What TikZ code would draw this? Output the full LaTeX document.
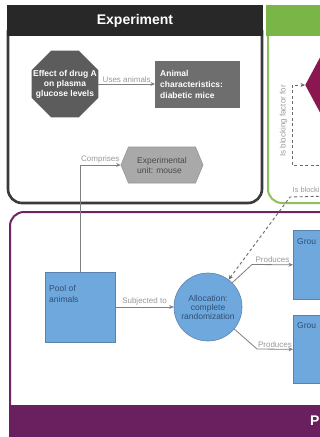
\documentclass[tikz,border=0pt]{standalone}
\usepackage{fontspec}
\setmainfont{Liberation Sans}
\usetikzlibrary{shapes.geometric,shapes.symbols,arrows.meta}

\definecolor{expHead}{HTML}{282828}
\definecolor{expBorder}{HTML}{3A3A3A}
\definecolor{octFill}{HTML}{5C5C5C}
\definecolor{charFill}{HTML}{6E6E6E}
\definecolor{hexFill}{HTML}{A9A9A9}
\definecolor{hexEdge}{HTML}{959595}
\definecolor{hexText}{HTML}{4A4A4A}
\definecolor{greenHead}{HTML}{79B547}
\definecolor{greenBorder}{HTML}{8DC25A}
\definecolor{purpleBand}{HTML}{6A1F5E}
\definecolor{purpleBorder}{HTML}{6E2563}
\definecolor{blueFill}{HTML}{6FA8DC}
\definecolor{blueEdge}{HTML}{5A82AC}
\definecolor{blueText}{HTML}{2F4F76}
\definecolor{diaFill}{HTML}{8A1750}
\definecolor{connGray}{HTML}{808080}
\definecolor{lblGray}{HTML}{999999}
\definecolor{dashGray}{HTML}{6A6A6A}

\tikzset{
  conn/.style={draw=connGray, line width=0.8pt, -{Stealth[length=4.5pt,width=4pt]}},
  blocking/.style={draw=dashGray, line width=0.9pt, dash pattern=on 3pt off 2.5pt,
    -{Stealth[length=4.5pt,width=4pt]}},
  lbl/.style={font=\fontsize{8}{9}\selectfont, text=lblGray, inner sep=1.5pt},
  bluebox/.style={draw=blueEdge, fill=blueFill, line width=0.6pt, inner sep=0pt},
  bluetext/.style={font=\fontsize{8.5}{11}\selectfont, text=blueText, align=left, inner sep=0pt},
  headtext/.style={font=\fontsize{14}{16}\selectfont\bfseries, text=white, inner sep=0pt},
}

\begin{document}
\begin{tikzpicture}[x=1pt,y=-1pt]
\useasboundingbox (0,0) rectangle (320,437);
\clip (0,0) rectangle (320,437);
\fill[white] (0,0) rectangle (320,437);

% ---- Experiment panel
\draw[expBorder, line width=2.6pt, rounded corners=14pt] (8,30) -- (8,203) -- (262,203) -- (262,30);
\fill[expHead] (6.7,5) rectangle (263.3,36);
\node[headtext] (expTitle) at (135,20.5) {Experiment};

% ---- Green panel
\draw[greenBorder, line width=2pt, rounded corners=14pt] (268,30) -- (268,203) -- (340,203);
\fill[greenHead] (266,5) rectangle (330,36);

% ---- Purple panel
\draw[purpleBorder, line width=2pt, rounded corners=14pt] (10,420) -- (10,212) -- (340,212);
\fill[purpleBand] (9,405) rectangle (330,437);
\node[headtext, anchor=west] (popTitle) at (310,421) {P};

% ---- Experiment content
\node[regular polygon, regular polygon sides=8, minimum size=72pt, inner sep=0pt,
      fill=octFill] (effect) at (65,84) {};
\node[text=white, align=center, inner sep=0pt,
      font=\fontsize{8.5}{10}\selectfont\bfseries] (effectText) at (effect.center)
      {Effect of drug A\\on plasma\\glucose levels};
\node[fill=charFill, minimum width=85pt, minimum height=47pt, inner xsep=5pt,
      text width=75pt, align=left, text=white,
      font=\fontsize{8.5}{11}\selectfont\bfseries, anchor=west] (animal) at (155,84)
      {Animal\\characteristics:\\diabetic mice};
\draw[conn] (effect.east) -- node[lbl, above] {Uses animals} (animal.west);

\node[signal, signal to=east and west, signal pointer angle=135,
      minimum width=82pt, minimum height=36pt, inner sep=2pt,
      fill=hexFill, draw=hexEdge, line width=0.6pt, text=hexText, align=left,
      font=\fontsize{8.5}{10}\selectfont] (unit) at (162,165)
      {Experimental\\unit: mouse};

% ---- Green content
\node[diamond, minimum width=44pt, minimum height=82pt, inner sep=0pt,
      fill=diaFill, anchor=west] (factor) at (305,85) {};

% ---- Population content
\node[bluebox, minimum width=70pt, minimum height=70pt] (pool) at (80,307) {};
\node[bluetext, anchor=north west] (poolText) at (49,285) {Pool of\\animals};

\node[circle, minimum size=68pt, inner sep=0pt, fill=blueFill, draw=blueEdge,
      line width=0.6pt, text=blueText, align=center,
      font=\fontsize{8.5}{9}\selectfont] (alloc) at (208,307)
      {Allocation:\\complete\\randomization};

\node[bluebox, minimum width=40pt, minimum height=69pt, anchor=north west] (groupA) at (293,230) {};
\node[bluetext, anchor=north west] (groupAText) at (297,238) {Grou};
\node[bluebox, minimum width=40pt, minimum height=68pt, anchor=north west] (groupB) at (293,315) {};
\node[bluetext, anchor=north west] (groupBText) at (297,322) {Grou};

% ---- Connectors
\draw[conn] (pool.north) |- node[lbl, pos=0.75, above] {Comprises} (unit.west);
\draw[conn] (pool.east) -- node[lbl, above] {Subjected to} (alloc.west);

\coordinate (prodA) at (252,264.5);
\draw[conn] (alloc.45) -- (prodA) -- node[lbl, above] {Produces} (groupA.west);
\coordinate (prodB) at (257,349);
\draw[conn] (alloc.-40) -- (prodB) -- node[lbl, above] {Produces} (groupB.west);

\coordinate (blkEnd) at (330,196);
\coordinate (blkBend) at (290,197);
\draw[blocking] (blkEnd) -- (blkBend) -- (alloc.53);
\node[lbl, font=\fontsize{7.4}{9}\selectfont, inner sep=0.5pt, anchor=south west]
      (blkLabel) at (292,193) {Is blocki};

\coordinate (facEnd) at (330,165);
\coordinate (facLow) at (292,165);
\coordinate (facHigh) at (292,85);
\draw[blocking] (facEnd) -- (facLow) -- (facHigh) -- (factor.west);
\node[lbl, rotate=90, anchor=center] (facLabel) at (283.5,121) {Is blocking factor for};
\end{tikzpicture}
\end{document}
